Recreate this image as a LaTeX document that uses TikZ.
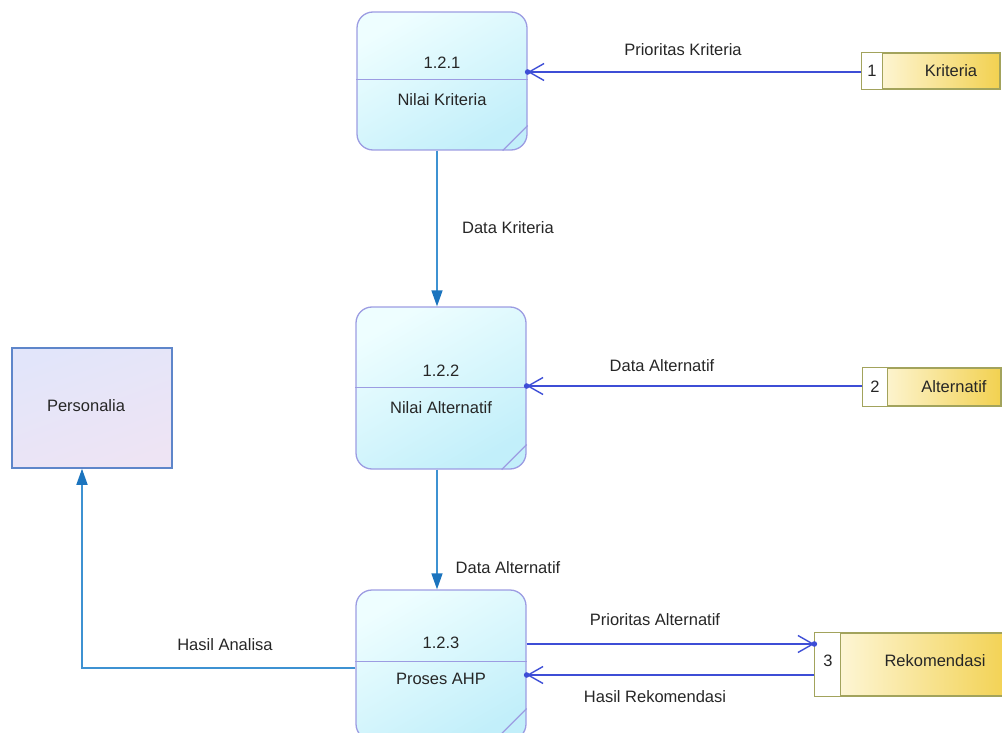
\documentclass[tikz,border=0pt]{standalone}
\usepackage{fontspec}
\setmainfont{Liberation Sans}
\usetikzlibrary{arrows.meta,calc}

\definecolor{procline}{HTML}{9C9CE2}
\definecolor{proctop}{HTML}{EEFEFF}
\definecolor{procbot}{HTML}{C2EFFA}
\definecolor{flowblue}{HTML}{3E4ED6}
\definecolor{flowteal}{HTML}{3E92D2}
\definecolor{tiptea}{HTML}{1B74BE}
\definecolor{storeline}{HTML}{A2A35C}
\definecolor{storeleft}{HTML}{FFFBE8}
\definecolor{storeright}{HTML}{F2D150}
\definecolor{entline}{HTML}{5E86CA}
\definecolor{enttop}{HTML}{E2E5FA}
\definecolor{entbot}{HTML}{EEE4F4}
\definecolor{txt}{HTML}{262626}

\tikzset{
  txtstyle/.style={font=\fontsize{16.5}{19}\selectfont, text=txt, inner sep=0pt},
  process/.style={draw=procline, line width=1.3pt, rounded corners=16pt,
    top color=proctop, bottom color=procbot, shading angle=30,
    minimum width=170pt, inner sep=0pt},
  procpart/.style={draw=procline, line width=1.2pt},
  store/.style={draw=storeline, line width=1.3pt, left color=storeleft,
    right color=storeright, inner sep=0pt},
  entity/.style={draw=entline, line width=1.5pt, top color=enttop,
    bottom color=entbot, shading angle=20, minimum width=160pt,
    minimum height=120pt, inner sep=0pt},
  openflow/.style={draw=flowblue, line width=1.8pt,
    -{Straight Barb[length=15pt,width=17pt,line width=1.4pt]}},
  fillflow/.style={draw=flowteal, line width=1.5pt,
    -{Triangle[length=16pt,width=11pt,color=tiptea]}},
  lbl/.style={txtstyle}
}

\begin{document}
\begin{tikzpicture}[x=1pt,y=-1pt]
\useasboundingbox (0,0) rectangle (1002,733);
\clip (0,0) rectangle (1002,733);

% processes
\node[process, minimum height=138pt] (p1) at (442,81) {};
\draw[procpart] ($(p1.north west)+(0,68)$) -- ($(p1.north east)+(0,68)$);
\draw[procpart] ($(p1.south east)+(-25,0)$) -- ($(p1.south east)+(0,-25)$);
\node[txtstyle] (p1id) at (442,63) {1.2.1};
\node[txtstyle] (p1nm) at (442,100) {Nilai Kriteria};

\node[process, minimum height=162pt] (p2) at (441,388) {};
\draw[procpart] ($(p2.north west)+(0,81)$) -- ($(p2.north east)+(0,81)$);
\draw[procpart] ($(p2.south east)+(-25,0)$) -- ($(p2.south east)+(0,-25)$);
\node[txtstyle] (p2id) at (441,371) {1.2.2};
\node[txtstyle] (p2nm) at (441,408) {Nilai Alternatif};

\node[process, minimum height=150pt] (p3) at (441,665) {};
\draw[procpart] ($(p3.north west)+(0,72)$) -- ($(p3.north east)+(0,72)$);
\draw[procpart] ($(p3.south east)+(-32,0)$) -- ($(p3.south east)+(0,-32)$);
\node[txtstyle] (p3id) at (441,643) {1.2.3};
\node[txtstyle] (p3nm) at (441,679) {Proses AHP};

% external entity
\node[entity] (pers) at (92,408) {};
\node[txtstyle] (persnm) at (86,406) {Personalia};

% data stores
\node[store, minimum width=138pt, minimum height=36pt] (s1) at (931,71) {};
\draw[storeline, line width=1.3pt, fill=white] (s1.north west) rectangle ($(s1.south west)+(21,0)$);
\node[txtstyle] (s1id) at (872,71) {1};
\node[txtstyle] (s1nm) at (951,71) {Kriteria};

\node[store, minimum width=138pt, minimum height=38pt] (s2) at (932,387) {};
\draw[storeline, line width=1.3pt, fill=white] (s2.north west) rectangle ($(s2.south west)+(25,0)$);
\node[txtstyle] (s2id) at (875,387) {2};
\node[txtstyle] (s2nm) at (954,387) {Alternatif};

\node[store, minimum width=196pt, minimum height=63pt] (s3) at (913,664.5) {};
\draw[storeline, line width=1.3pt, fill=white] (s3.north west) rectangle ($(s3.south west)+(26,0)$);
\node[txtstyle] (s3id) at (828,661) {3};
\node[txtstyle] (s3nm) at (935,661) {Rekomendasi};

% data flows
\draw[openflow] ($(s1.west)+(0,1)$) -- ($(s1.west -| p1.east)+(0,1)$);
\fill[flowblue] ($(s1.west -| p1.east)+(0,1)$) circle (2.8);
\node[lbl] (l1) at (683,50) {Prioritas Kriteria};

\draw[fillflow] ($(p1.south)+(-5,0)$) -- ($(p2.north)+(-4,0)$);
\node[lbl] (l2) at (508,228) {Data Kriteria};

\draw[openflow] ($(s2.west)+(0,-1)$) -- ($(s2.west -| p2.east)+(0,-1)$);
\fill[flowblue] ($(s2.west -| p2.east)+(0,-1)$) circle (2.8);
\node[lbl] (l3) at (662,366) {Data Alternatif};

\draw[fillflow] ($(p2.south)+(-4,0)$) -- ($(p3.north)+(-4,0)$);
\node[lbl] (l4) at (508,568) {Data Alternatif};

\draw[openflow] ($(p3.east)+(0,-21)$) -- ($(s3.west)+(0,-20.5)$);
\fill[flowblue] ($(s3.west)+(0,-20.5)$) circle (2.8);
\node[lbl] (l5) at (655,620) {Prioritas Alternatif};

\draw[openflow] ($(s3.west)+(0,10.5)$) -- ($(p3.east)+(0,10)$);
\fill[flowblue] ($(p3.east)+(0,10)$) circle (2.8);
\node[lbl] (l6) at (655,697) {Hasil Rekomendasi};

\draw[fillflow] ($(p3.west)+(0,3)$) -| ($(pers.south)+(-10,0)$);
\node[lbl] (l7) at (225,645) {Hasil Analisa};
\end{tikzpicture}
\end{document}
